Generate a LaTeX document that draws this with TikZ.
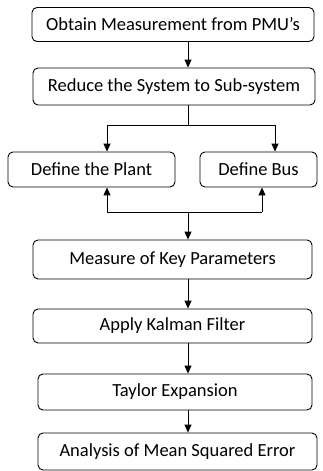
\documentclass[tikz,border=0pt]{standalone}
\usepackage{fontspec}
\setmainfont{Carlito}
\usetikzlibrary{arrows.meta,calc}
\begin{document}
\begin{tikzpicture}[x=1pt,y=-1pt,
  box/.style={draw, line width=0.9pt, rounded corners=5pt, inner sep=0pt, font=\fontsize{18.5}{20}\selectfont},
  arr/.style={line width=1pt, -{Triangle[length=8pt,width=7pt]}},
  ln/.style={line width=1pt}]
\useasboundingbox (0,0) rectangle (322,471);
\node[box, minimum width=282, minimum height=34] (b1) at (173,24.5) {Obtain Measurement from PMU’s};
\node[box, minimum width=282, minimum height=37] (b2) at (174,86.5) {Reduce the System to Sub-system};
\node[box, minimum width=167, minimum height=35] (pl) at (91.5,169.5) {Define the Plant};
\node[box, minimum width=117, minimum height=35] (bu) at (258.5,169.5) {Define Bus};
\node[box, minimum width=279, minimum height=39] (me) at (172.5,259.5) {Measure of Key Parameters};
\node[box, minimum width=279, minimum height=34] (ka) at (172.5,326) {Apply Kalman Filter};
\node[box, minimum width=274, minimum height=36] (ta) at (175,392) {Taylor Expansion};
\node[box, minimum width=279, minimum height=37] (an) at (177.5,451.5) {Analysis of Mean Squared Error};
\coordinate (mx) at (188,0);
\coordinate (sp) at (188,125);
\coordinate (sl) at (107,125);
\coordinate (sr) at (275,125);
\coordinate (jm) at (188,212);
\coordinate (jl) at (107,212);
\coordinate (jr) at (262,212);
\draw[arr] (mx |- b1.south) -- (mx |- b2.north);
\draw[ln] (mx |- b2.south) -- (sp);
\draw[ln] (sl) -- (sr);
\draw[arr] (sl) -- (sl |- pl.north);
\draw[arr] (sr) -- (sr |- bu.north);
\draw[ln] (jl) -- (jr);
\draw[arr] (jl) -- (jl |- pl.south);
\draw[arr] (jr) -- (jr |- bu.south);
\draw[arr] (jm) -- (jm |- me.north);
\draw[arr] (mx |- me.south) -- (mx |- ka.north);
\draw[arr] (mx |- ka.south) -- (mx |- ta.north);
\draw[arr] (mx |- ta.south) -- (mx |- an.north);
\end{tikzpicture}
\end{document}
